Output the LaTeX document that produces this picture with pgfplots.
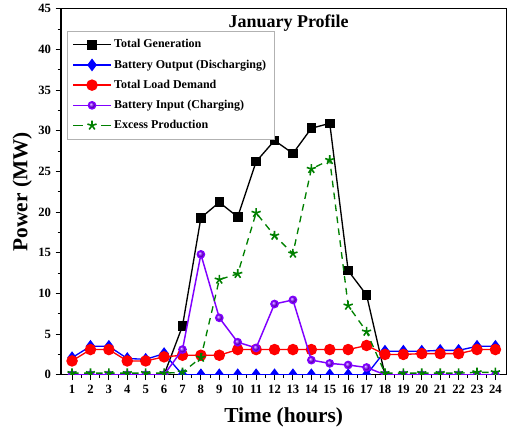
\documentclass[border=0pt]{standalone}
\usepackage{fontspec}
\setmainfont{Liberation Serif}
\usepackage{pgfplots}
\pgfplotsset{compat=1.18}
\definecolor{pviolet}{RGB}{128,0,255}
\definecolor{dgreen}{RGB}{0,128,0}

\begin{document}
\begin{tikzpicture}
\begin{axis}[
    width=334pt, height=274.5pt, scale only axis,
    xmin=0.4, xmax=24.6, ymin=0, ymax=45,
    xtick={1,...,24}, minor x tick num=1,
    ytick={0,5,...,45}, minor y tick num=1,
    tick align=outside, xtick pos=bottom, ytick pos=left,
    major tick length=4pt, minor tick length=2.5pt,
    axis line style={line width=0.8pt},
    tick style={line width=0.7pt, black},
    clip marker paths=true,
    /pgf/number format/assume math mode=true,
    tick label style={font=\bfseries\fontsize{9.5}{10}\selectfont},
    xlabel={Time (hours)}, ylabel={Power (MW)},
    label style={font=\bfseries\fontsize{16}{18}\selectfont},
    xlabel style={yshift=-4pt},
    ylabel style={yshift=-2pt},
    legend style={at={(0.0135,0.94)}, anchor=north west, draw=gray!60,
        font=\bfseries\fontsize{9}{10}\selectfont, row sep=3.4pt,
        inner xsep=4pt, inner ysep=4.5pt},
    legend cell align=left,
    legend image code/.code={\draw[mark repeat=2,mark phase=2] plot coordinates {(0pt,0pt)(14pt,0pt)(28pt,0pt)};},
]
% Total Generation: line down to zero at 6 and 18, markers only where nonzero
\addplot[black, line width=1pt, forget plot] coordinates {(6,0) (7,6.0)};
\addplot[black, line width=1pt, forget plot] coordinates {(17,9.8) (18,0)};
\addplot[black, line width=1pt, mark=square*, mark size=3.1pt, mark options={solid}]
 coordinates {(7,6.0) (8,19.3) (9,21.2) (10,19.4) (11,26.2) (12,28.8)
 (13,27.2) (14,30.3) (15,30.9) (16,12.8) (17,9.8)};
% Battery Output
\addplot[blue, line width=1pt, mark=diamond*, mark size=4pt, mark options={solid}]
 coordinates {(1,2.1) (2,3.5) (3,3.5) (4,2.0) (5,1.9) (6,2.6) (7,0) (8,0) (9,0) (10,0) (11,0) (12,0)
 (13,0) (14,0) (15,0) (16,0) (17,0) (18,2.9) (19,2.9) (20,2.9) (21,3.0) (22,3.0) (23,3.5) (24,3.5)};
% Total Load Demand
\addplot[red, line width=1pt, mark=*, mark size=3.8pt, mark options={solid}]
 coordinates {(1,1.7) (2,3.1) (3,3.1) (4,1.7) (5,1.7) (6,2.2) (7,2.4) (8,2.4) (9,2.4) (10,3.1) (11,3.1) (12,3.1)
 (13,3.1) (14,3.1) (15,3.1) (16,3.1) (17,3.6) (18,2.5) (19,2.5) (20,2.6) (21,2.6) (22,2.6) (23,3.1) (24,3.1)};
% Battery Input
\addplot[pviolet, line width=1.1pt, mark=ball, mark size=2.7pt, mark options={ball color=pviolet}]
 coordinates {(1,0) (2,0) (3,0) (4,0) (5,0) (6,0) (7,3.1) (8,14.8) (9,7.0) (10,4.0) (11,3.3) (12,8.7)
 (13,9.2) (14,1.8) (15,1.4) (16,1.2) (17,0.9) (18,0) (19,0) (20,0) (21,0) (22,0) (23,0) (24,0)};
% Excess Production
\addplot[dgreen, line width=1pt, dash pattern=on 5pt off 4pt, mark=star, mark size=3.6pt,
    mark options={solid, fill=dgreen, line width=1.2pt},
    legend image code/.code={\draw[dash pattern=on 7pt off 14pt] (0pt,0pt) -- (28pt,0pt);
        \draw[solid] plot[mark=star, mark options={fill=dgreen, line width=1.2pt}] coordinates {(14pt,0pt)};}]
 coordinates {(1,0.2) (2,0.2) (3,0.2) (4,0.2) (5,0.2) (6,0.2) (7,0.3) (8,2.1) (9,11.7) (10,12.4) (11,19.9) (12,17.1)
 (13,14.9) (14,25.3) (15,26.4) (16,8.5) (17,5.3) (18,0.2) (19,0.2) (20,0.2) (21,0.2) (22,0.2) (23,0.3) (24,0.3)};
\legend{Total Generation, Battery Output (Discharging), Total Load Demand, Battery Input (Charging), Excess Production}
\node[anchor=north, font=\bfseries\fontsize{13.5}{14}\selectfont] at (rel axis cs:0.511,0.995) {January Profile};
\end{axis}
\path (current bounding box.south west) ++(-6pt,0) coordinate (padL);
\end{tikzpicture}
\end{document}
